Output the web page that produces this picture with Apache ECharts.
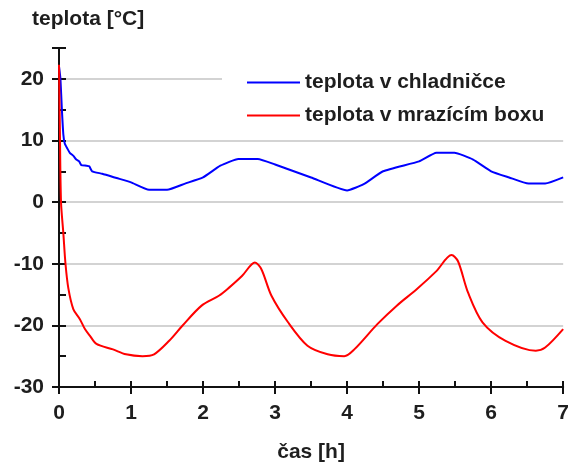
<!DOCTYPE html>
<html>
<head>
<meta charset="utf-8">
<script src="https://cdn.jsdelivr.net/npm/echarts@6/dist/echarts.min.js"></script>
<style>html,body{margin:0;padding:0;background:#fff}#c{width:572px;height:468px}</style>
</head>
<body>
<div id="c"></div>
<script>
const seriesNames = ['teplota v chladničce', 'teplota v mrazícím boxu'];
const xTitle = 'čas [h]';
const yTitle = 'teplota [°C]';
const xTicks = [0, 1, 2, 3, 4, 5, 6, 7];
const yTicks = [-30, -20, -10, 0, 10, 20];

// [time h, temperature °C]
const fridge = [
  [0, 22], [0.02, 20], [0.04, 15], [0.06, 11], [0.08, 9.5], [0.12, 8.6], [0.15, 8],
  [0.2, 7.5], [0.24, 6.9], [0.28, 6.6], [0.31, 6], [0.38, 5.9], [0.42, 5.8], [0.46, 5],
  [0.6, 4.6], [0.8, 3.9], [1.0, 3.2], [1.25, 2.0], [1.5, 2.0], [1.75, 3.0], [2.0, 4.0],
  [2.24, 5.9], [2.49, 7.0], [2.76, 7.0], [3.0, 6.1], [3.5, 4.0], [4.0, 1.9], [4.23, 2.9],
  [4.5, 5.0], [5.0, 6.6], [5.24, 8.0], [5.49, 8.0], [5.75, 6.9], [6.0, 5.0], [6.25, 4.0],
  [6.52, 3.0], [6.75, 3.0], [7.0, 4.0]
];
const freezer = [
  [0, 22.3], [0.012, 12], [0.028, 0], [0.06, -5], [0.09, -10], [0.13, -14], [0.2, -17.4],
  [0.29, -19], [0.36, -20.6], [0.43, -21.7], [0.52, -23], [0.75, -23.9], [0.93, -24.7],
  [1.16, -25], [1.32, -24.7], [1.53, -22.5], [1.71, -20.1], [1.98, -16.8], [2.22, -15.2],
  [2.35, -14], [2.54, -12], [2.72, -9.8], [2.81, -10.9], [2.95, -15.2], [3.18, -19.5],
  [3.45, -23.3], [3.73, -24.7], [3.96, -25], [4.1, -23.9], [4.42, -19.8], [4.69, -16.8],
  [4.97, -14.1], [5.24, -11.2], [5.45, -8.6], [5.54, -9.6], [5.68, -14.7], [5.88, -19.5],
  [6.2, -22.5], [6.62, -24.1], [6.75, -23.6], [7.0, -20.6]
];

const FONT = 'Liberation Sans';
const FS = 21;
const TXT = '#1e1e1e';
const chart = echarts.init(document.getElementById('c'), null, {renderer: 'canvas'});
const xMin = xTicks[0], xMax = xTicks[xTicks.length - 1];
const yMin = yTicks[0], yMax = 25;

chart.setOption({
  animation: false,
  backgroundColor: '#fff',
  title: {
    text: yTitle, left: 32, top: 9, padding: 0,
    textStyle: {fontFamily: FONT, fontSize: FS, fontWeight: 'bold', color: TXT}
  },
  legend: {
    orient: 'vertical', left: 222, top: 64,
    padding: [8, 80, 6, 25],
    backgroundColor: '#fff',
    itemWidth: 53, itemHeight: 2, itemGap: 12,
    icon: 'rect',
    data: seriesNames,
    textStyle: {fontFamily: FONT, fontSize: FS, fontWeight: 'bold', color: TXT, padding: [0, 0, 0, 0]}
  },
  grid: {left: 59, right: 5, top: 48, bottom: 80, containLabel: false},
  xAxis: [{
    type: 'value', min: xMin, max: xMax, interval: 1, position: 'bottom',
    name: xTitle, nameLocation: 'middle', nameGap: 55,
    nameTextStyle: {fontFamily: FONT, fontSize: FS, fontWeight: 'bold', color: TXT},
    axisLine: {onZero: false, lineStyle: {color: '#111', width: 2}},
    axisTick: {inside: false, length: 7, lineStyle: {color: '#111', width: 2}},
    axisLabel: {margin: 16, fontFamily: FONT, fontSize: FS, fontWeight: 'bold', color: TXT},
    splitLine: {show: false}
  }, {
    type: 'value', min: xMin, max: xMax, interval: 0.5, position: 'bottom',
    axisLine: {show: false, onZero: false},
    axisTick: {inside: true, length: 6, lineStyle: {color: '#111', width: 2}},
    axisLabel: {show: false},
    splitLine: {show: false}
  }],
  yAxis: [{
    type: 'value', min: yMin, max: yMax, interval: 10, position: 'left',
    axisLine: {show: true, onZero: false, lineStyle: {color: '#111', width: 2}},
    axisTick: {show: true, inside: false, length: 7, lineStyle: {color: '#111', width: 2}},
    axisLabel: {
      margin: 15, fontFamily: FONT, fontSize: FS, fontWeight: 'bold', color: TXT,
      formatter: v => (yTicks.indexOf(v) >= 0 ? String(v) : '')
    },
    splitLine: {show: true, showMinLine: false, showMaxLine: false, lineStyle: {color: '#c4c4c4', width: 1.5}}
  }, {
    type: 'value', min: yMin, max: yMax, interval: 5, position: 'left',
    axisLine: {show: false, onZero: false},
    axisTick: {show: true, inside: true, length: 7, lineStyle: {color: '#111', width: 2}},
    axisLabel: {show: false},
    splitLine: {show: false}
  }],
  series: [{
    name: seriesNames[0], type: 'line', data: fridge, xAxisIndex: 0, yAxisIndex: 0,
    symbol: 'none', smooth: 0.15, color: '#0000ff',
    lineStyle: {color: '#0000ff', width: 2}, z: 3
  }, {
    name: seriesNames[1], type: 'line', data: freezer, xAxisIndex: 0, yAxisIndex: 0,
    symbol: 'none', smooth: 0.3, color: '#ff0000',
    lineStyle: {color: '#ff0000', width: 2}, z: 4
  }]
});
</script>
</body>
</html>
